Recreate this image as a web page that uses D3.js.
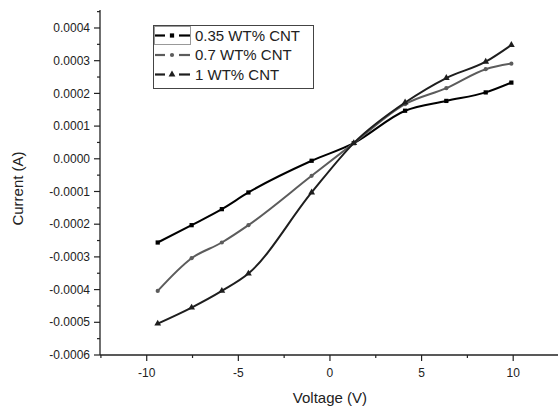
<!DOCTYPE html>
<html>
<head>
<meta charset="utf-8">
<script src="https://cdn.jsdelivr.net/npm/d3@7"></script>
<style>
  body { margin: 0; background: #fff; }
  text { font-family: "Liberation Sans", Arial, sans-serif; fill: #222; }
</style>
</head>
<body>
<div id="wrapper"></div>
<script>
// data
const seriesNames = ["0.35 WT% CNT", "0.7 WT% CNT", "1 WT% CNT"]
const voltage = [-9.4, -7.55, -5.9, -4.45, -1.0, 1.3, 4.1, 6.35, 8.5, 9.9]
const current035 = [-0.000256, -0.000203, -0.000154, -0.000103, -0.000006, 0.000048, 0.000147, 0.000177, 0.000203, 0.000233]
const current07 = [-0.000404, -0.000304, -0.000256, -0.000203, -0.000052, 0.000048, 0.000167, 0.000216, 0.000274, 0.000291]
const current1 = [-0.000504, -0.000455, -0.000404, -0.000351, -0.000103, 0.000048, 0.000172, 0.000247, 0.000297, 0.000348]
const xTicks = [-10, -5, 0, 5, 10]
const yTicks = [-0.0006, -0.0005, -0.0004, -0.0003, -0.0002, -0.0001, 0, 0.0001, 0.0002, 0.0003, 0.0004]

const colors = ["#000000", "#5c5c5c", "#1e1e1e"]
const symbols = [d3.symbolSquare, d3.symbolCircle, d3.symbolTriangle]
const symbolSizes = [18, 14, 20]

const width = 558
const height = 408
const margin = { top: 10, right: 0, bottom: 53, left: 100 }

const svg = d3.select("#wrapper")
  .append("svg")
    .attr("width", width)
    .attr("height", height)

const x = d3.scaleLinear()
  .domain([-12.55, 12.5])
  .range([margin.left, 559])

const y = d3.scaleLinear()
  .domain([-0.0006, 0.000455])
  .range([height - margin.bottom, margin.top])

// axes
const xAxis = svg.append("g")
  .attr("transform", `translate(0,${height - margin.bottom})`)
xAxis.append("line")
  .attr("x1", margin.left).attr("x2", width)
  .attr("stroke", "#222").attr("stroke-width", 1.3)
d3.range(-12.5, 12.6, 2.5).forEach(v => {
  const major = xTicks.includes(v)
  xAxis.append("line")
    .attr("x1", x(v)).attr("x2", x(v))
    .attr("y1", 0).attr("y2", major ? 6 : 3)
    .attr("stroke", "#222").attr("stroke-width", 1.2)
})
xTicks.forEach(v => {
  xAxis.append("text")
    .attr("x", x(v))
    .attr("y", 22)
    .attr("text-anchor", "middle")
    .attr("font-size", 12)
    .text(v)
})

const yAxis = svg.append("g")
  .attr("transform", `translate(${margin.left},0)`)
yAxis.append("line")
  .attr("y1", y(0.000455)).attr("y2", height - margin.bottom)
  .attr("stroke", "#222").attr("stroke-width", 1.3)
d3.range(-12, 10).forEach(i => {
  const v = i * 0.00005
  const major = i % 2 === 0
  yAxis.append("line")
    .attr("x1", major ? -6 : -3).attr("x2", 0)
    .attr("y1", y(v)).attr("y2", y(v))
    .attr("stroke", "#222").attr("stroke-width", 1.2)
})
yTicks.forEach(v => {
  yAxis.append("text")
    .attr("x", -10)
    .attr("y", y(v))
    .attr("dy", "0.35em")
    .attr("text-anchor", "end")
    .attr("font-size", 12)
    .text(d3.format(".4f")(v).replace("−", "-"))
})

svg.append("text")
  .attr("x", x(0))
  .attr("y", 403)
  .attr("text-anchor", "middle")
  .attr("font-size", 15)
  .text("Voltage (V)")

svg.append("text")
  .attr("transform", `translate(23,${(y(0.000455) + height - margin.bottom) / 2 + 6}) rotate(-90)`)
  .attr("text-anchor", "middle")
  .attr("font-size", 15)
  .text("Current (A)")

// lines
const allSeries = [current035, current07, current1]
const lineGenerator = d3.line()
  .x(d => x(d[0]))
  .y(d => y(d[1]))
  .curve(d3.curveMonotoneX)

allSeries.forEach((values, i) => {
  const points = voltage.map((v, j) => [v, values[j]])
  svg.append("path")
    .attr("d", lineGenerator(points))
    .attr("fill", "none")
    .attr("stroke", colors[i])
    .attr("stroke-width", 2)
  svg.append("g")
    .selectAll("path")
    .data(points)
    .join("path")
      .attr("transform", d => `translate(${x(d[0])},${y(d[1])})`)
      .attr("d", d3.symbol(symbols[i], symbolSizes[i]))
      .attr("fill", colors[i])
})

// legend
const legend = svg.append("g")
legend.append("rect")
  .attr("x", 153.5).attr("y", 25.5)
  .attr("width", 160).attr("height", 63)
  .attr("fill", "#fff")
  .attr("stroke", "#444")
legend.append("rect")
  .attr("x", 154.5).attr("y", 26.5)
  .attr("width", 36).attr("height", 18)
  .attr("fill", "none")
  .attr("stroke", "#999")
seriesNames.forEach((name, i) => {
  const rowY = 35.5 + i * 19.5
  legend.append("line")
    .attr("x1", 155).attr("x2", 165)
    .attr("y1", rowY).attr("y2", rowY)
    .attr("stroke", colors[i]).attr("stroke-width", 2.2)
  legend.append("line")
    .attr("x1", 179).attr("x2", 190)
    .attr("y1", rowY).attr("y2", rowY)
    .attr("stroke", colors[i]).attr("stroke-width", 2.2)
  legend.append("path")
    .attr("transform", `translate(172,${rowY})`)
    .attr("d", d3.symbol(symbols[i], symbolSizes[i]))
    .attr("fill", colors[i])
  legend.append("text")
    .attr("x", 195)
    .attr("y", rowY)
    .attr("dy", "0.36em")
    .attr("font-size", 15)
    .text(name)
})
</script>
</body>
</html>
